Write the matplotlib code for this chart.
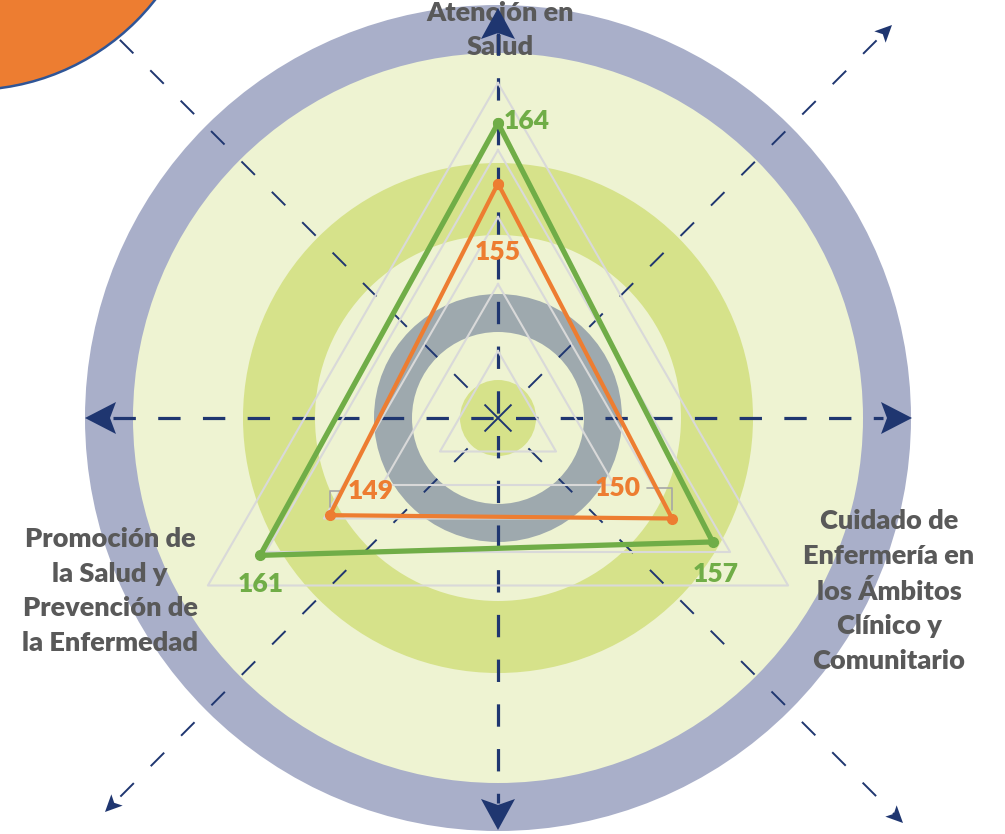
import numpy as np
import matplotlib
matplotlib.use('Agg')
import matplotlib.pyplot as plt
from matplotlib.patches import Circle, Polygon

# chart data
categories = ['Atención en\nSalud',
              'Cuidado de\nEnfermería en\nlos Ámbitos\nClínico y\nComunitario',
              'Promoción de\nla Salud y\nPrevención de\nla Enfermedad']
serie_verde = [164, 157, 161]
serie_naranja = [155, 150, 149]
r_min, r_max = 120, 170
niveles = [130, 140, 150, 160, 170]

plt.rcParams['font.family'] = ['Lato', 'DejaVu Sans']

W, H = 1005, 834
fig = plt.figure(figsize=(W / 100, H / 100), dpi=100)

# background axes in pixel units
bg = fig.add_axes([0, 0, 1, 1])
bg.set_xlim(0, W)
bg.set_ylim(H, 0)
bg.axis('off')

cx, cy = 498, 418
R = 335  # radius of the value axis (r_max)

# concentric rings
rings = [(413, '#A9AFC9'), (365, '#EEF3D2'), (255, '#D6E28A'), (183, '#EEF3D2'),
         (124, '#9EA9AE'), (86, '#EEF3D2'), (38, '#D6E28A')]
for rad, col in rings:
    bg.add_patch(Circle((cx, cy), rad, facecolor=col, edgecolor='none', zorder=0))

# orange blob in the corner
bg.add_patch(Circle((-30, -145), 235, facecolor='#ED7D31', edgecolor='#2F5597',
                    lw=1.8, zorder=5))

navy = '#1F3670'


def punta(tip, d, length, half, notch):
    d = np.array(d, float) / np.hypot(*d)
    n = np.array([-d[1], d[0]])
    tip = np.array(tip, float)
    back = tip - d * length
    pts = [tip, back + n * half, tip - d * (length - notch), back - n * half]
    bg.add_patch(Polygon(pts, closed=True, facecolor=navy, edgecolor='none', zorder=4))


# main dashed axes with big heads
bg.plot([cx - 385, cx + 385], [cy, cy], color=navy, lw=2.3, ls=(0, (7, 7)),
        solid_capstyle='butt', zorder=3)
bg.plot([cx, cx], [cy - 385, cy + 385], color=navy, lw=2.3, ls=(0, (7, 7)),
        solid_capstyle='butt', zorder=3)
punta((cx - 413, cy), (-1, 0), 31, 16, 6)
punta((cx + 414, cy), (1, 0), 31, 16, 6)
punta((cx, cy - 410), (0, -1), 31, 17, 6)
punta((cx, cy + 412), (0, 1), 31, 17, 6)

# diagonal dashed arrows
diag = [((394, -393), True), ((-393, 394), True), ((405, 405), True), ((-420, -420), False)]
for (dx, dy), head in diag:
    L = np.hypot(dx, dy)
    ux, uy = dx / L, dy / L
    bg.plot([cx, cx + ux * (L - 12)], [cy, cy + uy * (L - 12)], color=navy, lw=1.4,
            ls=(0, (9.8, 12.3)), solid_capstyle='butt', zorder=3)
    if head:
        punta((cx + dx, cy + dy), (dx, dy), 17, 8, 4)

# category labels
gris = '#595959'
kw = dict(ha='center', va='center', fontsize=19.5, fontweight='heavy', color=gris,
          linespacing=1.52, zorder=2)
bg.text(500, 30, categories[0], **kw)
bg.text(889, 591, categories[1], **kw)
bg.text(110, 591, categories[2], **kw)

# radar (polar axes)
ax = fig.add_axes([(cx - R) / W, (H - cy - R) / H, 2 * R / W, 2 * R / H],
                  projection='polar')
ax.set_theta_zero_location('N')
ax.set_theta_direction(-1)
ax.set_ylim(r_min, r_max)
ax.patch.set_alpha(0)
ax.spines['polar'].set_visible(False)
ax.grid(False)
ax.set_xticks([])
ax.set_yticks([])

ang = np.deg2rad([0, 120, 240])
ang_c = np.append(ang, ang[0])
for nv in niveles:
    ax.plot(ang_c, [nv] * 4, color='#D9D9D9', lw=1.5, zorder=2, clip_on=False)

verde = '#70AD47'
naranja = '#ED7D31'
ax.plot(ang_c, serie_verde + serie_verde[:1], color=verde, lw=3.8, marker='o',
        markersize=7, zorder=4, clip_on=False)
ax.plot(ang_c, serie_naranja + serie_naranja[:1], color=naranja, lw=3.0, marker='o',
        markersize=7, zorder=5, clip_on=False)

off_verde = [(6, 2, 'left'), (3, -32, 'center'), (1, -29, 'center')]
for a, v, (ox, oy, ha) in zip(ang, serie_verde, off_verde):
    ax.annotate(str(v), (a, v), xytext=(ox, oy), textcoords='offset pixels',
                ha=ha, va='center', fontsize=19, fontweight='heavy', color=verde,
                annotation_clip=False)

off_naranja = [(0, -68), (-54, 31), (41, 24)]
for i, (a, v, (ox, oy)) in enumerate(zip(ang, serie_naranja, off_naranja)):
    props = None
    if i == 1:
        props = dict(arrowstyle='-', color='#A6A6A6', lw=1.2, relpos=(1, 0.5),
                     connectionstyle='angle,angleA=0,angleB=90,rad=0', shrinkB=6)
    elif i == 2:
        props = dict(arrowstyle='-', color='#A6A6A6', lw=1.2, relpos=(0, 0.5),
                     connectionstyle='angle,angleA=0,angleB=90,rad=0', shrinkB=6)
    ax.annotate(str(v), (a, v), xytext=(ox, oy), textcoords='offset pixels',
                ha='center', va='center', fontsize=19, fontweight='heavy', color=naranja,
                arrowprops=props, annotation_clip=False)

fig.savefig('out.png', dpi=100)
